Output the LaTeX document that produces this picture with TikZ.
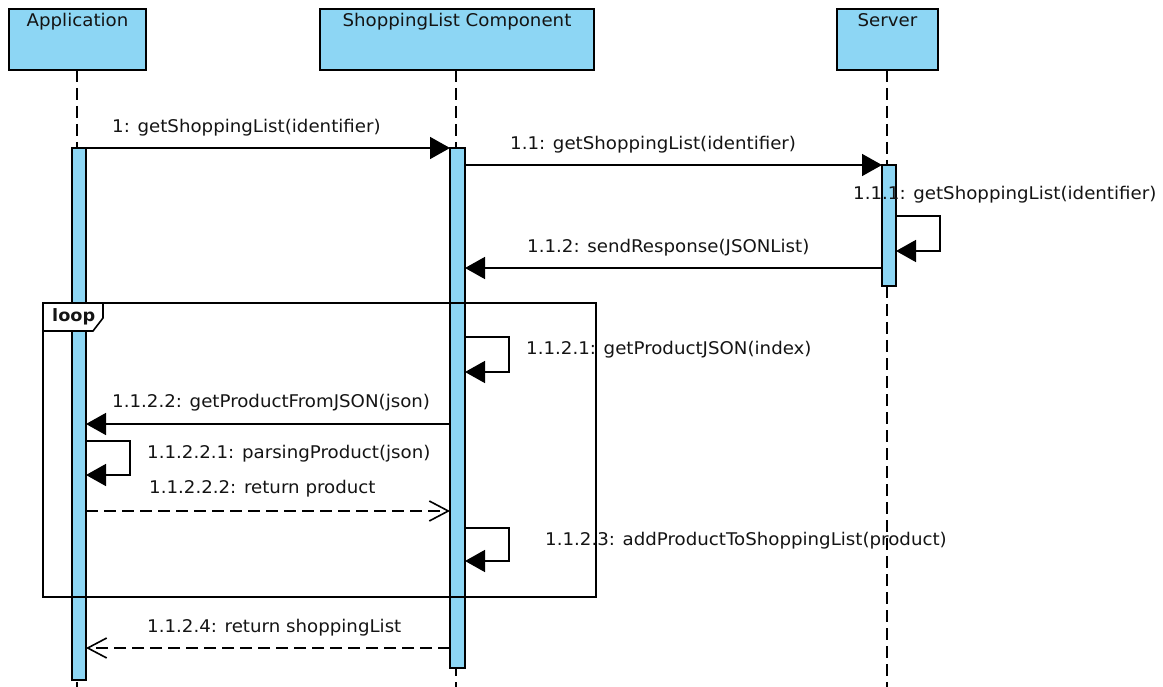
\documentclass[tikz,border=0pt]{standalone}
\usepackage{fontspec}
\setmainfont[FakeStretch=1.04]{DejaVu Sans}
\usetikzlibrary{arrows.meta}
\definecolor{lifeblue}{RGB}{141,214,244}
\definecolor{txtcol}{RGB}{20,20,20}
\begin{document}
\begin{tikzpicture}[x=1pt,y=-1pt,
  every node/.style={font=\fontsize{17.5pt}{20pt}\selectfont, text=txtcol, inner sep=0pt},
  headbox/.style={draw, line width=2pt, fill=lifeblue, minimum height=61pt},
  actbar/.style={draw, line width=1.6pt, fill=lifeblue, minimum width=14pt},
  lifeline/.style={line width=1.8pt, dash pattern=on 12pt off 6pt},
  msg/.style={line width=1.6pt, -{Triangle[length=20pt,width=22pt]}},
  ret/.style={line width=1.6pt, dash pattern=on 12pt off 6pt, -{Straight Barb[length=19pt,width=20pt]}},
  lbl/.style={anchor=base west},
  htxt/.style={anchor=base}]
\useasboundingbox (0,0) rectangle (1163,687);
% headers
\node[headbox, minimum width=137pt] (appbox) at (77.5,39.5) {};
\node[headbox, minimum width=274pt] (shopbox) at (457,39.5) {};
\node[headbox, minimum width=101pt] (srvbox) at (887.5,39.5) {};
\node[htxt] (apptxt) at (77.5,27) {Application};
\node[htxt] (shoptxt) at (457,27) {ShoppingList Component};
\node[htxt] (srvtxt) at (887.5,27) {Server};
% lifelines
\coordinate (apptop) at (77,70);   \coordinate (append) at (77,690);
\coordinate (shoptop) at (456,70); \coordinate (shopend) at (456,690);
\coordinate (srvtop) at (887,70);  \coordinate (srvend) at (887,690);
\draw[lifeline] (apptop) -- (append);
\draw[lifeline] (shoptop) -- (shopend);
\draw[lifeline] (srvtop) -- (srvend);
% activation bars
\node[actbar, minimum height=532pt] (appbar) at (79,414) {};
\node[actbar, minimum width=15pt, minimum height=520pt] (shopbar) at (457.5,408) {};
\node[actbar, minimum height=121pt] (srvbar) at (889,225.5) {};
% loop frame
\draw[line width=1.6pt] (43,303) rectangle (596,597);
\filldraw[line width=1.6pt, fill=white] (43,303) -- (103,303) -- (103,318) -- (93,331) -- (43,331) -- cycle;
\node[lbl, font=\fontsize{17pt}{20pt}\selectfont\bfseries] (looptxt) at (52,322) {loop};
% message end points
\coordinate (m1a) at (86,148);   \coordinate (m1b) at (450,148);
\coordinate (m11a) at (465,165); \coordinate (m11b) at (882,165);
\coordinate (s111a) at (896,216); \coordinate (s111b) at (896,251);
\coordinate (m112a) at (882,268); \coordinate (m112b) at (465,268);
\coordinate (s1121a) at (465,337); \coordinate (s1121b) at (465,372);
\coordinate (m1122a) at (450,424); \coordinate (m1122b) at (86,424);
\coordinate (s11221a) at (86,441); \coordinate (s11221b) at (86,475);
\coordinate (r11222a) at (86,511); \coordinate (r11222b) at (450,511);
\coordinate (s1123a) at (465,528); \coordinate (s1123b) at (465,561);
\coordinate (r1124a) at (450,648); \coordinate (r1124b) at (86,648);
% messages
\draw[msg] (m1a) -- (m1b);
\draw[msg] (m11a) -- (m11b);
\draw[msg] (s111a) -- ++(44,0) |- (s111b);
\draw[msg] (m112a) -- (m112b);
\draw[msg] (s1121a) -- ++(44,0) |- (s1121b);
\draw[msg] (m1122a) -- (m1122b);
\draw[msg] (s11221a) -- ++(44,0) |- (s11221b);
\draw[ret] (r11222a) -- (r11222b);
\draw[msg] (s1123a) -- ++(44,0) |- (s1123b);
\draw[ret] (r1124a) -- (r1124b);
% labels
\node[lbl] (t1) at (112,133) {1: getShoppingList(identifier)};
\node[lbl] (t11) at (510,150) {1.1: getShoppingList(identifier)};
\node[lbl] (t111) at (853,200) {1.1.1: getShoppingList(identifier)};
\node[lbl] (t112) at (527,253) {1.1.2: sendResponse(JSONList)};
\node[lbl] (t1121) at (526,354) {1.1.2.1: getProductJSON(index)};
\node[lbl] (t1122) at (112,407) {1.1.2.2: getProductFromJSON(json)};
\node[lbl] (t11221) at (147,458) {1.1.2.2.1: parsingProduct(json)};
\node[lbl] (t11222) at (149,493) {1.1.2.2.2: return product};
\node[lbl] (t1123) at (545,545) {1.1.2.3: addProductToShoppingList(product)};
\node[lbl] (t1124) at (147,632) {1.1.2.4: return shoppingList};
\end{tikzpicture}
\end{document}
